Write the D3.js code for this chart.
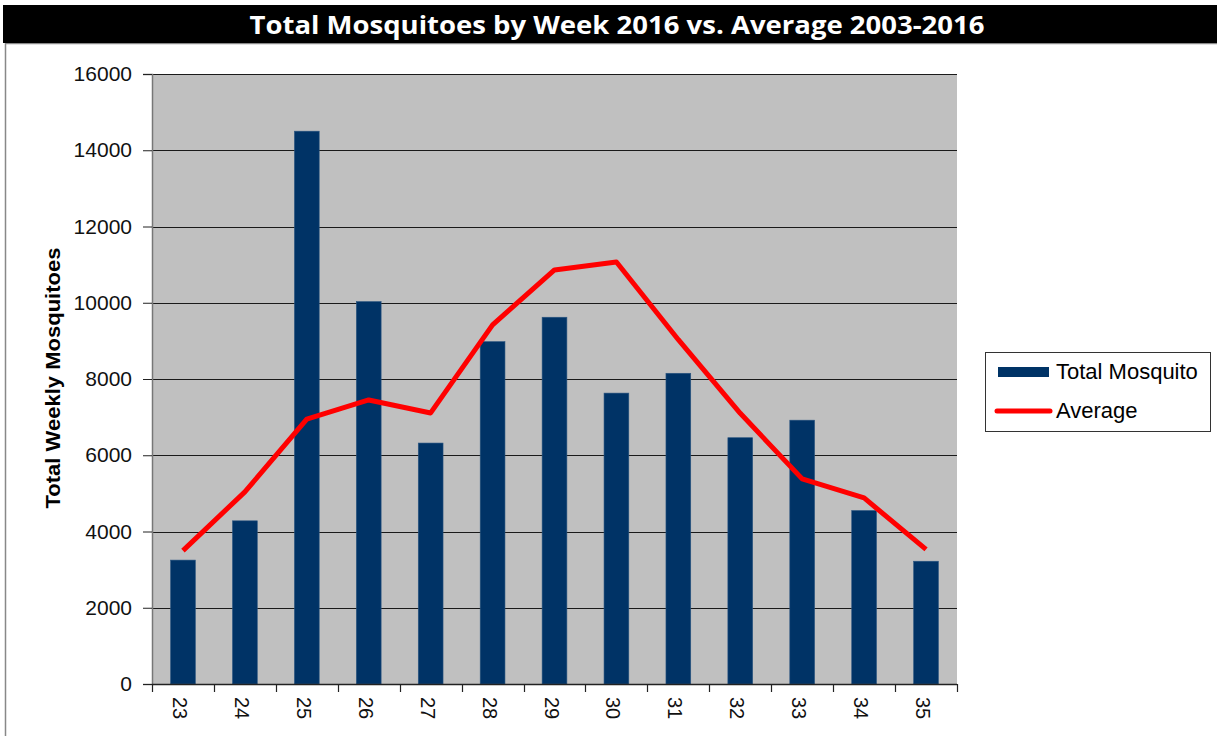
<!DOCTYPE html>
<html>
<head>
<meta charset="utf-8">
<script src="https://cdnjs.cloudflare.com/ajax/libs/d3/7.8.5/d3.min.js"></script>
<style>
  body { margin: 0; background: #fff; }
  svg { display: block; font-family: "Liberation Sans", Arial, sans-serif; }
</style>
</head>
<body>
<svg id="chart" width="1217" height="736"></svg>
<script>
var WEEKS = ['23', '24', '25', '26', '27', '28', '29', '30', '31', '32', '33', '34', '35'];
var TOTAL_MOSQUITO = [3250, 4280, 14500, 10030, 6320, 8980, 9620, 7630, 8150, 6460, 6920, 4550, 3220];
var AVERAGE = [3500, 5040, 6950, 7450, 7110, 9420, 10860, 11070, 9030, 7100, 5380, 4880, 3530];
var Y_TICKS = [0, 2000, 4000, 6000, 8000, 10000, 12000, 14000, 16000];

var BAR_COLOR = '#003366';
var LINE_COLOR = '#ff0000';
var PLOT_BG = '#c0c0c0';

var svg = d3.select('#chart');
var plot = { left: 152, top: 74, right: 957, bottom: 684 };

// outer frame + title bar
svg.append('rect').attr('x', 5.5).attr('y', 43.5).attr('width', 1230).attr('height', 720)
    .attr('fill', 'none').attr('stroke', '#888').attr('stroke-width', 1.5);
svg.append('rect').attr('x', 3).attr('y', 5).attr('width', 1214).attr('height', 38).attr('fill', '#000');
svg.append('text').attr('x', 617).attr('y', 34).attr('text-anchor', 'middle')
    .attr('fill', '#fff').attr('font-family', '"Open Sans", sans-serif').attr('font-weight', 'bold')
    .attr('font-size', 25).attr('textLength', 735).attr('lengthAdjust', 'spacingAndGlyphs')
    .text('Total Mosquitoes by Week 2016 vs. Average 2003-2016');

var x = d3.scaleBand().domain(WEEKS).range([plot.left, plot.right]).paddingInner(0.6).paddingOuter(0.3);
var xPos = d3.scalePoint().domain(WEEKS).range([plot.left, plot.right]).padding(0.5);
var y = d3.scaleLinear().domain([0, 16000]).range([plot.bottom, plot.top]);

svg.append('rect').attr('x', plot.left).attr('y', plot.top)
    .attr('width', plot.right - plot.left).attr('height', plot.bottom - plot.top)
    .attr('fill', PLOT_BG);

// gridlines
svg.append('g').selectAll('line').data(Y_TICKS.slice(1)).enter().append('line')
    .attr('x1', plot.left).attr('x2', plot.right)
    .attr('y1', function (d) { return Math.round(y(d)) + 0.5; })
    .attr('y2', function (d) { return Math.round(y(d)) + 0.5; })
    .attr('stroke', '#1a1a1a').attr('stroke-width', 1.2);

// bars
svg.append('g').selectAll('rect').data(TOTAL_MOSQUITO).enter().append('rect')
    .attr('x', function (d, i) { return x(WEEKS[i]); })
    .attr('y', function (d) { return y(d); })
    .attr('width', x.bandwidth())
    .attr('height', function (d) { return y(0) - y(d); })
    .attr('fill', BAR_COLOR).attr('stroke', '#2a5580').attr('stroke-width', 0.6);

// average line
var line = d3.line()
    .x(function (d, i) { return xPos(WEEKS[i]); })
    .y(function (d) { return y(d); });
svg.append('path').datum(AVERAGE).attr('d', line)
    .attr('fill', 'none').attr('stroke', LINE_COLOR).attr('stroke-width', 5)
    .attr('stroke-linejoin', 'round');

// y axis
var yAxis = svg.append('g').attr('transform', 'translate(' + plot.left + ',0)')
    .call(d3.axisLeft(y).tickValues(Y_TICKS).tickSize(9).tickPadding(11).tickFormat(d3.format('d')));
yAxis.select('.domain').attr('stroke', '#777').attr('stroke-width', 1.5);
yAxis.selectAll('.tick line').attr('stroke', '#222');
yAxis.selectAll('text').attr('font-size', 21).attr('fill', '#111')
    .attr('font-family', '"Liberation Sans", Arial, sans-serif');

// x axis
var boundaries = d3.range(WEEKS.length + 1).map(function (i) {
    return plot.left + i * (plot.right - plot.left) / WEEKS.length;
});
svg.append('line').attr('x1', plot.left).attr('x2', plot.right)
    .attr('y1', plot.bottom + 0.5).attr('y2', plot.bottom + 0.5).attr('stroke', '#222').attr('stroke-width', 1.5);
svg.append('g').selectAll('line').data(boundaries).enter().append('line')
    .attr('x1', function (d) { return Math.round(d) + 0.5; })
    .attr('x2', function (d) { return Math.round(d) + 0.5; })
    .attr('y1', plot.bottom).attr('y2', plot.bottom + 8)
    .attr('stroke', '#222').attr('stroke-width', 1.2);
svg.append('g').selectAll('text').data(WEEKS).enter().append('text')
    .attr('transform', function (d) { return 'translate(' + (xPos(d) - 10) + ',' + (plot.bottom + 13) + ')rotate(90)'; })
    .attr('font-size', 20).attr('fill', '#111')
    .text(function (d) { return d; });

// y axis title
svg.append('text').attr('transform', 'translate(60,378)rotate(-90)')
    .attr('text-anchor', 'middle').attr('font-weight', 'bold').attr('font-size', 20)
    .attr('textLength', 261).attr('lengthAdjust', 'spacingAndGlyphs')
    .text('Total Weekly Mosquitoes');

// legend
var legend = svg.append('g').attr('transform', 'translate(985,352)');
legend.append('rect').attr('x', 0.5).attr('y', 0.5).attr('width', 225).attr('height', 79)
    .attr('fill', '#fff').attr('stroke', '#333').attr('stroke-width', 1);
legend.append('rect').attr('x', 13).attr('y', 15).attr('width', 51).attr('height', 10).attr('fill', BAR_COLOR);
legend.append('line').attr('x1', 12).attr('x2', 65).attr('y1', 59).attr('y2', 59)
    .attr('stroke', LINE_COLOR).attr('stroke-width', 5).attr('stroke-linecap', 'round');
legend.append('text').attr('x', 71).attr('y', 27).attr('font-size', 22).text('Total Mosquito');
legend.append('text').attr('x', 71).attr('y', 66).attr('font-size', 22).text('Average');
</script>
</body>
</html>
